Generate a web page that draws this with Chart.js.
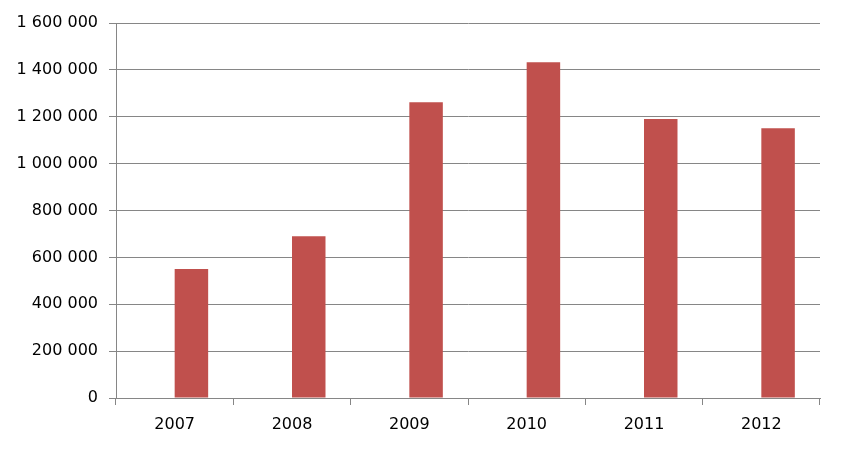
<!DOCTYPE html>
<html>
<head>
<meta charset="utf-8">
<script src="https://cdn.jsdelivr.net/npm/chart.js@4/dist/chart.umd.min.js"></script>
<style>
html,body{margin:0;padding:0;background:#fff;}
#wrap{width:844px;height:450px;}
</style>
</head>
<body>
<div id="wrap"><canvas id="c" width="844" height="450"></canvas></div>
<script>
const categories = ["2007", "2008", "2009", "2010", "2011", "2012"];
const emptySeries = [null, null, null, null, null, null];
const values = [550000, 690000, 1262000, 1433000, 1190000, 1151000];
const yMin = 0, yMax = 1600000, yStep = 200000;

function fmt(v){ return String(v).replace(/\B(?=(\d{3})+(?!\d))/g, " "); }

new Chart(document.getElementById('c'), {
  type: 'bar',
  data: {
    labels: categories,
    datasets: [{
      data: emptySeries,
      backgroundColor: '#4F81BD',
      borderWidth: 0,
      barPercentage: 1.0,
      categoryPercentage: 0.571
    }, {
      data: values,
      backgroundColor: '#C0504D',
      borderWidth: 0,
      barPercentage: 1.0,
      categoryPercentage: 0.571
    }]
  },
  options: {
    responsive: false,
    animation: false,
    devicePixelRatio: 1,
    layout: { padding: { left: 0, right: 24, top: 23, bottom: 0 } },
    plugins: { legend: { display: false }, tooltip: { enabled: false } },
    scales: {
      x: {
        offset: true,
        grid: { offset: true, drawOnChartArea: false, drawTicks: true, tickLength: 7, color: '#868686', lineWidth: 1 },
        border: { color: '#868686', width: 1 },
        ticks: { color: '#000', font: { family: 'DejaVu Sans', size: 16 }, padding: 10 },
        afterFit: s => { s.height = 52; }
      },
      y: {
        min: yMin, max: yMax,
        grid: { color: '#868686', lineWidth: 1, tickLength: 7 },
        border: { color: '#868686', width: 1 },
        ticks: { stepSize: yStep, color: '#000', font: { family: 'DejaVu Sans', size: 16 }, padding: 11, callback: v => fmt(v) },
        afterFit: s => { s.width = 116; }
      }
    }
  }
});
</script>
</body>
</html>
